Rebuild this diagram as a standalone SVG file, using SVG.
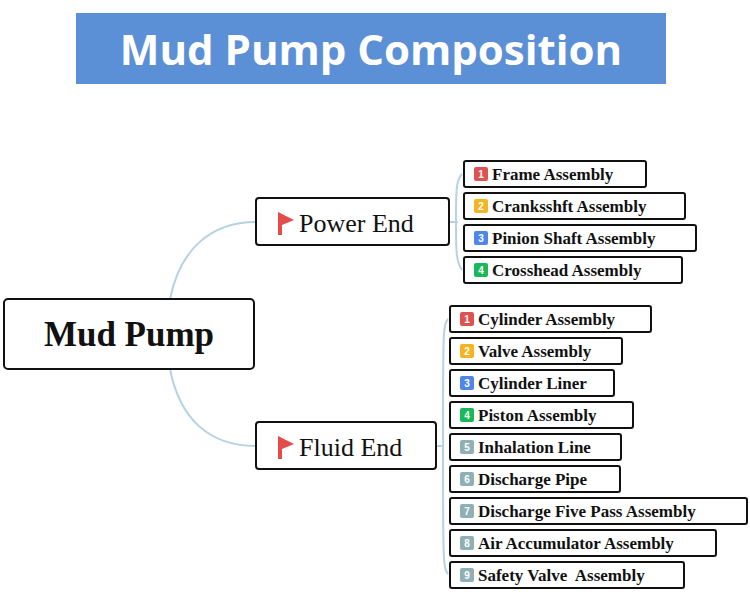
<svg xmlns="http://www.w3.org/2000/svg" width="750" height="594" viewBox="0 0 750 594">
<style>
.n{fill:#fff;stroke:#111;stroke-width:2}
.t{font-family:"Liberation Serif",serif;font-weight:bold;font-size:17px;fill:#111}
.b{font-family:"Liberation Sans",sans-serif;font-weight:bold;font-size:10px;fill:#fff;text-anchor:middle}
.c{fill:none;stroke:#b5d3e3;stroke-width:2}
</style>
<rect width="750" height="594" fill="#fff"/>
<g id="title"><rect x="76" y="13" width="590" height="71" fill="#5b8fd6"/>
<text x="371" y="65" text-anchor="middle" font-family="Open Sans, Liberation Sans, sans-serif" font-weight="bold" font-size="42" fill="#fff">Mud Pump Composition</text></g>
<g id="connectors">
<path class="c" d="M170 299 C180 250 210 222 256 222"/>
<path class="c" d="M170 369 C180 420 210 446 256 446"/>
<path class="c" d="M449 222 L458 222 M462 174 C456 180 456 190 456 222 C456 250 456 262 462 270"/>
<path class="c" d="M436 446 L444 446 M448 319 C443 325 443 330 443 446 C443 560 443 568 448 574"/>
</g>
<g id="mud-pump"><rect class="n" x="4" y="299" width="250" height="70" rx="4" stroke-width="3"/>
<text x="129" y="346" text-anchor="middle" font-family="Liberation Serif,serif" font-weight="bold" font-size="35" fill="#111">Mud Pump</text></g>
<g id="power-end"><rect class="n" x="256" y="198" width="193" height="47" rx="3" stroke-width="2.5"/>
<path d="M278 212 L294 220 L282 225 L282 235 L278 235 Z" fill="#e54b4b"/>
<text x="299" y="232" font-family="Liberation Serif,serif" font-size="26" fill="#111">Power End</text></g>
<g id="fluid-end"><rect class="n" x="256" y="422" width="180" height="47" rx="3" stroke-width="2.5"/>
<path d="M278 436 L294 444 L282 449 L282 459 L278 459 Z" fill="#e54b4b"/>
<text x="299" y="456" font-family="Liberation Serif,serif" font-size="26" fill="#111">Fluid End</text></g>
<g id="p1"><rect class="n" x="464" y="161" width="182" height="26" rx="2"/><rect x="474" y="167" width="14" height="14" rx="2" fill="#e05252"/><text class="b" x="481" y="178">1</text><text class="t" x="492" y="180">Frame Assembly</text></g>
<g id="p2"><rect class="n" x="464" y="193" width="221" height="26" rx="2"/><rect x="474" y="199" width="14" height="14" rx="2" fill="#f5b523"/><text class="b" x="481" y="210">2</text><text class="t" x="492" y="212">Cranksshft Assembly</text></g>
<g id="p3"><rect class="n" x="464" y="225" width="232" height="26" rx="2"/><rect x="474" y="231" width="14" height="14" rx="2" fill="#4f86e8"/><text class="b" x="481" y="242">3</text><text class="t" x="492" y="244">Pinion Shaft Assembly</text></g>
<g id="p4"><rect class="n" x="464" y="257" width="218" height="26" rx="2"/><rect x="474" y="263" width="14" height="14" rx="2" fill="#19b85a"/><text class="b" x="481" y="274">4</text><text class="t" x="492" y="276">Crosshead Assembly</text></g>
<g id="f1"><rect class="n" x="450" y="306" width="201" height="26" rx="2"/><rect x="460" y="312" width="14" height="14" rx="2" fill="#e05252"/><text class="b" x="467" y="323">1</text><text class="t" x="478" y="325">Cylinder Assembly</text></g>
<g id="f2"><rect class="n" x="450" y="338" width="172" height="26" rx="2"/><rect x="460" y="344" width="14" height="14" rx="2" fill="#f5b523"/><text class="b" x="467" y="355">2</text><text class="t" x="478" y="357">Valve Assembly</text></g>
<g id="f3"><rect class="n" x="450" y="370" width="164" height="26" rx="2"/><rect x="460" y="376" width="14" height="14" rx="2" fill="#4f86e8"/><text class="b" x="467" y="387">3</text><text class="t" x="478" y="389">Cylinder Liner</text></g>
<g id="f4"><rect class="n" x="450" y="402" width="183" height="26" rx="2"/><rect x="460" y="408" width="14" height="14" rx="2" fill="#19b85a"/><text class="b" x="467" y="419">4</text><text class="t" x="478" y="421">Piston Assembly</text></g>
<g id="f5"><rect class="n" x="450" y="434" width="171" height="26" rx="2"/><rect x="460" y="440" width="14" height="14" rx="2" fill="#8fb0b5"/><text class="b" x="467" y="451">5</text><text class="t" x="478" y="453">Inhalation Line</text></g>
<g id="f6"><rect class="n" x="450" y="466" width="170" height="26" rx="2"/><rect x="460" y="472" width="14" height="14" rx="2" fill="#8fb0b5"/><text class="b" x="467" y="483">6</text><text class="t" x="478" y="485">Discharge Pipe</text></g>
<g id="f7"><rect class="n" x="450" y="498" width="297" height="26" rx="2"/><rect x="460" y="504" width="14" height="14" rx="2" fill="#8fb0b5"/><text class="b" x="467" y="515">7</text><text class="t" x="478" y="517">Discharge Five Pass Assembly</text></g>
<g id="f8"><rect class="n" x="450" y="530" width="266" height="26" rx="2"/><rect x="460" y="536" width="14" height="14" rx="2" fill="#8fb0b5"/><text class="b" x="467" y="547">8</text><text class="t" x="478" y="549">Air Accumulator Assembly</text></g>
<g id="f9"><rect class="n" x="450" y="562" width="234" height="26" rx="2"/><rect x="460" y="568" width="14" height="14" rx="2" fill="#8fb0b5"/><text class="b" x="467" y="579">9</text><text class="t" x="478" y="581" xml:space="preserve">Safety Valve  Assembly</text></g>
</svg>
